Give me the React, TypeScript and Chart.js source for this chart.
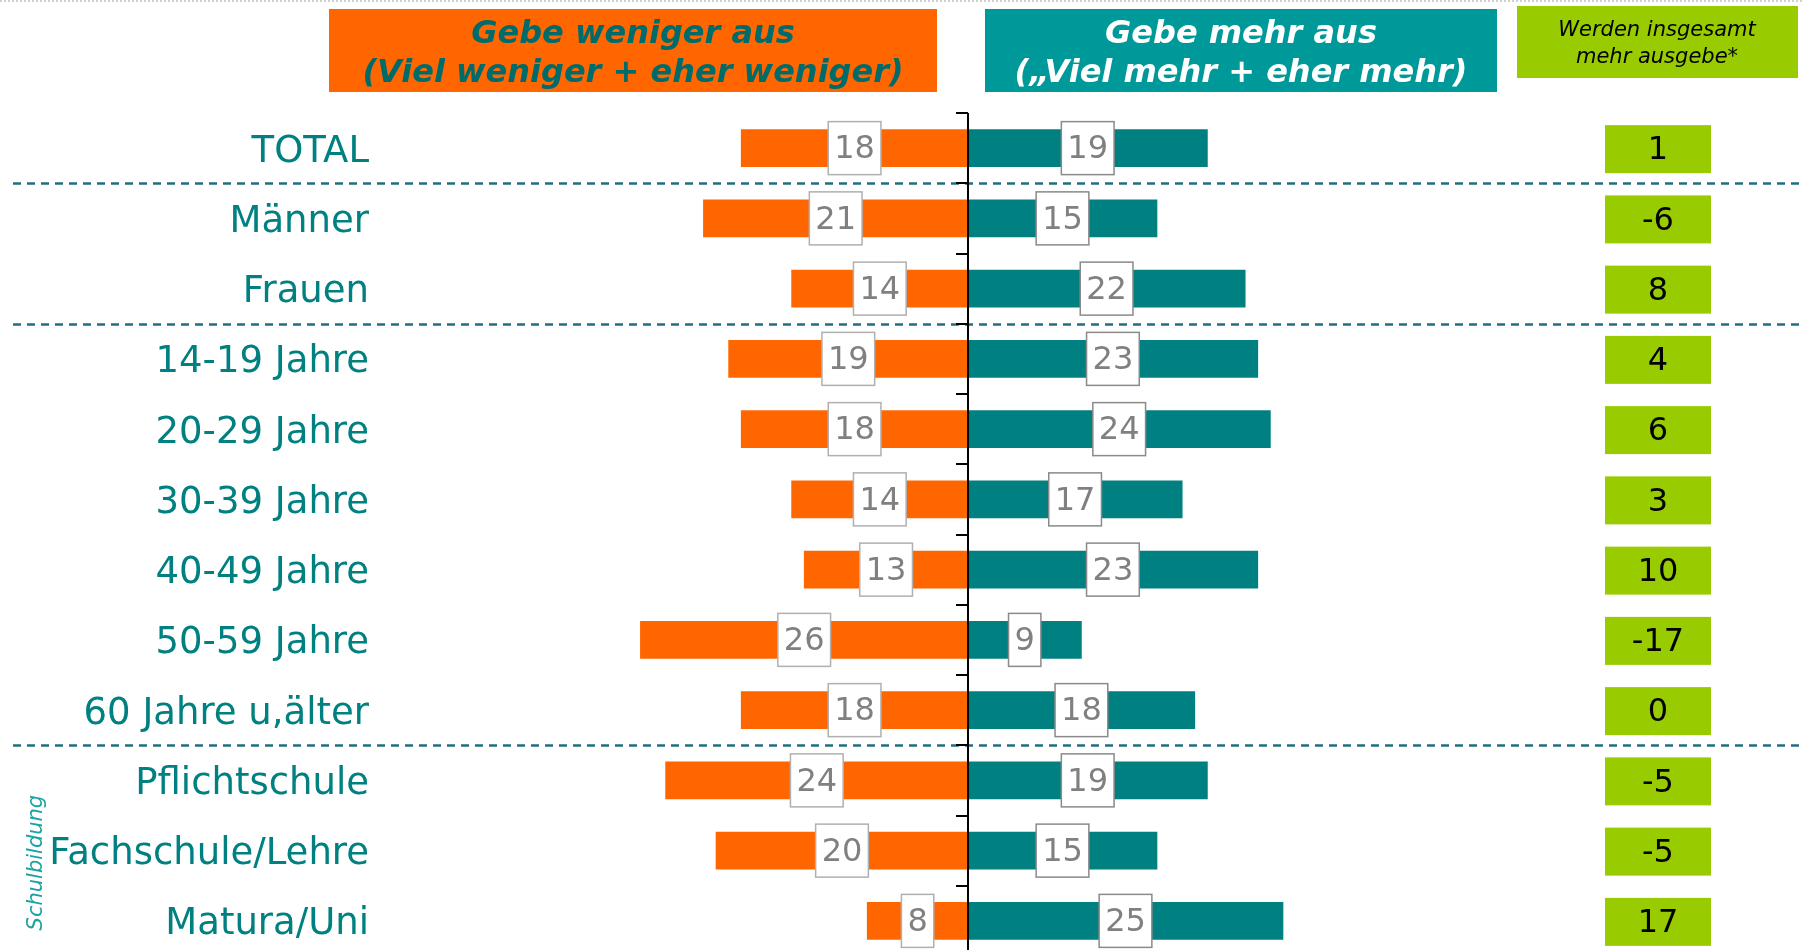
import React, { useEffect, useRef } from "react";
import { Chart, registerables } from "chart.js";

Chart.register(...registerables);

const categories = [
  "TOTAL",
  "Männer",
  "Frauen",
  "14-19 Jahre",
  "20-29 Jahre",
  "30-39 Jahre",
  "40-49 Jahre",
  "50-59 Jahre",
  "60 Jahre u,älter",
  "Pflichtschule",
  "Fachschule/Lehre",
  "Matura/Uni",
];
const wenigerValues = [18, 21, 14, 19, 18, 14, 13, 26, 18, 24, 20, 8];
const mehrValues = [19, 15, 22, 23, 24, 17, 23, 9, 18, 19, 15, 25];
const netValues = [1, -6, 8, 4, 6, 3, 10, -17, 0, -5, -5, 17];
const separatorsAfter = [0, 2, 8];
const headerWeniger = ["Gebe weniger aus", "(Viel weniger + eher weniger)"];
const headerMehr = ["Gebe mehr aus", "(„Viel mehr + eher mehr)"];
const headerNet = ["Werden insgesamt", "mehr ausgebe*"];
const groupLabel = "Schulbildung";

const ORANGE = "#FF6600";
const TEAL = "#008080";
const TEAL_HEAD = "#009999";
const GREEN = "#99CC00";
const FONT = "'DejaVu Sans', Verdana, sans-serif";

const overlayPlugin = {
  id: "overlay",
  beforeDraw(chart: any) {
    const ctx = chart.ctx;
    ctx.save();
    // faint top border
    ctx.strokeStyle = "#d0d0d0";
    ctx.lineWidth = 2;
    ctx.setLineDash([2, 2]);
    ctx.beginPath();
    ctx.moveTo(0, 1);
    ctx.lineTo(chart.width, 1);
    ctx.stroke();
    ctx.setLineDash([]);

    // headers
    ctx.fillStyle = ORANGE;
    ctx.fillRect(329, 9, 608, 83);
    ctx.fillStyle = TEAL_HEAD;
    ctx.fillRect(985, 9, 512, 83);
    ctx.fillStyle = GREEN;
    ctx.fillRect(1517, 6, 281, 72);

    ctx.textAlign = "center";
    ctx.textBaseline = "alphabetic";
    ctx.font = `italic bold 32px ${FONT}`;
    ctx.fillStyle = "#006B6B";
    ctx.fillText(headerWeniger[0], 633, 43);
    ctx.fillText(headerWeniger[1], 633, 82);
    ctx.fillStyle = "#ffffff";
    ctx.fillText(headerMehr[0], 1241, 43);
    ctx.fillText(headerMehr[1], 1241, 82);
    ctx.font = `italic 21px ${FONT}`;
    ctx.fillStyle = "#000000";
    ctx.fillText(headerNet[0], 1657, 36);
    ctx.fillText(headerNet[1], 1657, 63);
    ctx.restore();
  },
  afterDatasetsDraw(chart: any) {
    const ctx = chart.ctx;
    const xScale = chart.scales.x;
    const yScale = chart.scales.y;
    const area = chart.chartArea;
    const x0 = xScale.getPixelForValue(0);
    ctx.save();

    // separators
    ctx.strokeStyle = "#1F6F80";
    ctx.lineWidth = 2.5;
    ctx.setLineDash([8, 6]);
    separatorsAfter.forEach((i) => {
      const y = Math.round(yScale.getPixelForValue(i + 0.5)) + 0.5;
      ctx.beginPath();
      ctx.moveTo(13, y);
      ctx.lineTo(chart.width, y);
      ctx.stroke();
    });
    ctx.setLineDash([]);

    // center axis with ticks
    ctx.strokeStyle = "#000000";
    ctx.lineWidth = 2;
    ctx.beginPath();
    ctx.moveTo(x0, area.top);
    ctx.lineTo(x0, area.bottom);
    ctx.stroke();
    for (let k = 0; k <= categories.length; k++) {
      const y = Math.round(yScale.getPixelForValue(k - 0.5));
      ctx.beginPath();
      ctx.moveTo(x0 - 12, y);
      ctx.lineTo(x0, y);
      ctx.stroke();
    }

    // value boxes on bars
    ctx.font = `32px ${FONT}`;
    ctx.textAlign = "center";
    ctx.textBaseline = "middle";
    const sets = [
      { values: wenigerValues, border: "#b0b0b0" },
      { values: mehrValues, border: "#8a8a8a" },
    ];
    sets.forEach((s, di) => {
      const meta = chart.getDatasetMeta(di);
      meta.data.forEach((el: any, i: number) => {
        const p = el.getProps(["x", "y", "base"], true);
        const cx = (p.x + p.base) / 2;
        const txt = String(s.values[i]);
        const w = ctx.measureText(txt).width + 12;
        const h = 53;
        ctx.fillStyle = "#ffffff";
        ctx.fillRect(cx - w / 2, p.y - h / 2, w, h);
        ctx.strokeStyle = s.border;
        ctx.lineWidth = 1.5;
        ctx.strokeRect(cx - w / 2, p.y - h / 2, w, h);
        ctx.fillStyle = "#808080";
        ctx.fillText(txt, cx, p.y + 2);
      });
    });

    // net boxes
    netValues.forEach((v, i) => {
      const y = yScale.getPixelForValue(i) + 1;
      ctx.fillStyle = GREEN;
      ctx.fillRect(1605, y - 24, 106, 48);
      ctx.fillStyle = "#000000";
      ctx.font = `32px ${FONT}`;
      ctx.fillText(String(v), 1658, y + 2);
    });

    // group label
    const yA = yScale.getPixelForValue(9);
    const yB = yScale.getPixelForValue(11);
    ctx.translate(37, (yA + yB) / 2 + 12);
    ctx.rotate(-Math.PI / 2);
    ctx.font = `italic 21px ${FONT}`;
    ctx.fillStyle = "#1AA3A3";
    ctx.fillText(groupLabel, 0, 0);
    ctx.restore();
  },
};

export default function App() {
  const ref = useRef<HTMLCanvasElement | null>(null);

  useEffect(() => {
    if (!ref.current) return;
    const chart = new Chart(ref.current, {
      type: "bar",
      data: {
        labels: categories,
        datasets: [
          {
            label: "Gebe weniger aus",
            data: wenigerValues.map((v) => -v),
            backgroundColor: ORANGE,
            borderWidth: 0,
            barThickness: 37,
          },
          {
            label: "Gebe mehr aus",
            data: mehrValues,
            backgroundColor: TEAL,
            borderWidth: 0,
            barThickness: 37,
          },
        ],
      },
      options: {
        indexAxis: "y",
        responsive: false,
        animation: false,
        maintainAspectRatio: false,
        layout: { padding: { top: 113, bottom: 4, left: 0, right: 0 } },
        plugins: {
          legend: { display: false },
          tooltip: { enabled: false },
          title: { display: false },
        },
        scales: {
          x: {
            stacked: true,
            min: -46.667,
            max: 66.19,
            display: false,
          },
          y: {
            stacked: true,
            grid: { display: false, drawTicks: false },
            border: { display: false },
            ticks: {
              color: "#008080",
              font: { family: "'DejaVu Sans', Verdana, sans-serif", size: 37 },
              padding: 11,
              labelOffset: 4,
            },
            afterFit: (scale: any) => {
              scale.width = 380;
              scale.paddingTop = 0;
              scale.paddingBottom = 0;
            },
          },
        },
      },
      plugins: [overlayPlugin],
    } as any);
    return () => chart.destroy();
  }, []);

  return (
    <div
      style={{
        position: "fixed",
        left: 0,
        top: 0,
        width: 1802,
        height: 950,
        overflow: "hidden",
        background: "#ffffff",
      }}
    >
      <canvas ref={ref} width={1802} height={960} style={{ display: "block" }} />
    </div>
  );
}
